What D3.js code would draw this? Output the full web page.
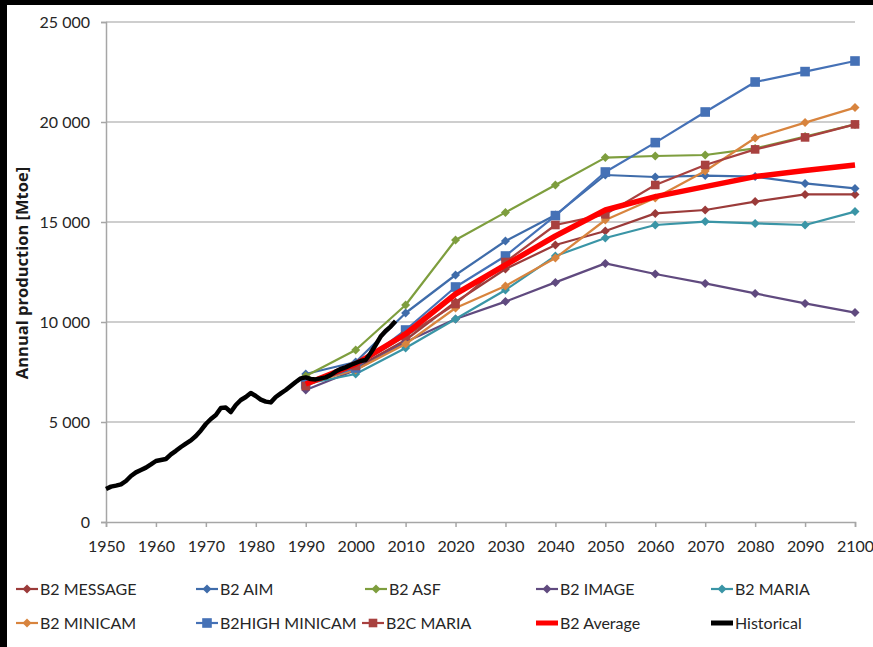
<!DOCTYPE html>
<html><head><meta charset="utf-8">
<script src="https://cdn.jsdelivr.net/npm/d3@7"></script>
<style>html,body{margin:0;padding:0;background:#000;}svg{display:block;}</style>
</head><body>
<script>
const scenarioYears = [1990,2000,2010,2020,2030,2040,2050,2060,2070,2080,2090,2100];
const b2Message     = [7000,7700,9100,11000,12650,13850,14550,15430,15600,16020,16380,16380];
const b2Aim         = [7400,8000,10450,12350,14050,15350,17350,17250,17320,17270,16930,16680];
const b2Asf         = [7300,8600,10850,14100,15480,16850,18220,18300,18350,18680,19270,19880];
const b2Image       = [6600,7600,9000,10150,11020,11980,12930,12400,11930,11430,10930,10470];
const b2Maria       = [6900,7400,8700,10150,11600,13300,14200,14850,15020,14930,14850,15520];
const b2Minicam     = [6900,7600,8900,10700,11800,13200,15100,16200,17550,19200,19970,20720];
const b2HighMinicam = [6900,7700,9600,11750,13300,15320,17500,18970,20500,22000,22520,23050];
const b2cMaria      = [6800,7800,9300,10900,13000,14850,15380,16850,17850,18630,19230,19880];
const b2Average     = [6900,7900,9400,11400,12850,14300,15600,16270,16770,17270,17570,17850];
const historicalYears = d3.range(1950,2009);
const historical = [1650,1770,1820,1880,2050,2300,2480,2600,2720,2880,3050,3100,3150,3380,3560,3750,3920,4080,4300,4580,
  4900,5150,5350,5700,5720,5500,5850,6100,6250,6450,6300,6120,6020,5980,6250,6430,6600,6800,7000,7180,
  7230,7150,7130,7180,7230,7350,7520,7650,7730,7850,7950,8050,8100,8450,8850,9270,9550,9770,10050];
const xTicks = [1950,1960,1970,1980,1990,2000,2010,2020,2030,2040,2050,2060,2070,2080,2090,2100];
const yTicks = [0,5000,10000,15000,20000,25000];
const seriesNames = ["B2 MESSAGE","B2 AIM","B2 ASF","B2 IMAGE","B2 MARIA","B2 MINICAM","B2HIGH MINICAM","B2C MARIA","B2 Average","Historical"];
const seriesColors = ["#9B3B3A","#3F6CAA","#7E9E3E","#604A7F","#3A95A6","#D8843E","#4571B6","#A8413F","#FF0000","#000000"];
const seriesMarkers = ["diamond","diamond","diamond","diamond","diamond","diamond","square","square","none","none"];

const W=873,H=647;
const svg=d3.select("body").append("svg").attr("width",W).attr("height",H);
svg.append("rect").attr("x",0).attr("y",0).attr("width",W).attr("height",H).attr("fill","#000");
svg.append("rect").attr("x",7).attr("y",5).attr("width",W-7).attr("height",H-5).attr("fill","#fff");

const x=d3.scaleLinear().domain([1950,2100]).range([106,855]);
const y=d3.scaleLinear().domain([0,25000]).range([522,22]);
const font="Lato, 'Open Sans', sans-serif";

// gridlines
svg.append("g").selectAll("line").data(yTicks.filter(d=>d>0)).join("line")
  .attr("x1",x(1950)).attr("x2",x(2100)).attr("y1",d=>y(d)).attr("y2",d=>y(d))
  .attr("stroke","#BEBEBE").attr("stroke-width",1.5);

// y axis
const yAxis=d3.axisLeft(y).tickValues(yTicks).tickSize(5).tickPadding(11)
  .tickFormat(d=>d===0?"0":d3.format(",")(d).replace(","," "));
const gy=svg.append("g").attr("transform",`translate(${x(1950)},0)`).call(yAxis);
gy.select(".domain").attr("stroke","#A6A6A6").attr("stroke-width",1.5);
gy.selectAll(".tick line").attr("stroke","#A6A6A6").attr("stroke-width",1.5);
gy.selectAll("text").attr("font-family",font).attr("font-size",16).attr("fill","#262626");

// x axis
const xAxis=d3.axisBottom(x).tickValues(xTicks).tickSize(5).tickPadding(14).tickFormat(d3.format("d"));
const gx=svg.append("g").attr("transform",`translate(0,${y(0)})`).call(xAxis);
gx.select(".domain").attr("stroke","#A6A6A6").attr("stroke-width",1.5);
gx.selectAll(".tick line").attr("stroke","#A6A6A6").attr("stroke-width",1.5);
gx.selectAll("text").attr("font-family",font).attr("font-size",16).attr("fill","#262626");

// y title
svg.append("text").attr("transform","translate(28,273) rotate(-90)").attr("text-anchor","middle")
  .attr("font-family","'Open Sans', sans-serif").attr("font-size",16.5).attr("font-weight","bold").attr("fill","#1a1a1a")
  .text("Annual production [Mtoe]");

const scen=[b2Message,b2Aim,b2Asf,b2Image,b2Maria,b2Minicam,b2HighMinicam,b2cMaria,b2Average];
const line=d3.line().x(d=>x(d[0])).y(d=>y(d[1]));
const plot=svg.append("g");
function marker(g,type,color,cx,cy,big){
  if(type==="diamond"){
    const s=4.5;
    g.append("path").attr("d",`M${cx},${cy-s}L${cx+s},${cy}L${cx},${cy+s}L${cx-s},${cy}Z`).attr("fill",color);
  } else if(type==="square"){
    const s=big?4.8:4.3;
    g.append("rect").attr("x",cx-s).attr("y",cy-s).attr("width",2*s).attr("height",2*s).attr("fill",color);
  }
}
scen.forEach((vals,i)=>{
  const pts=scenarioYears.map((yr,j)=>[yr,vals[j]]);
  const g=plot.append("g");
  g.append("path").attr("d",line(pts)).attr("fill","none").attr("stroke",seriesColors[i])
    .attr("stroke-width",i===8?5.5:2.2).attr("stroke-linejoin","round");
  if(seriesMarkers[i]!=="none") pts.forEach(p=>marker(g,seriesMarkers[i],seriesColors[i],x(p[0]),y(p[1]),i===6));
});
plot.append("path").attr("d",line(historicalYears.map((yr,j)=>[yr,historical[j]])))
  .attr("fill","none").attr("stroke","#000").attr("stroke-width",4.5).attr("stroke-linejoin","round");

// legend
const legendText=[[40,589],[220,589],[389,589],[560,589],[735,589],[40,623],[220,623],[386,623],[560,623],[735,623]];
seriesNames.forEach((name,i)=>{
  const [tx,ly]=legendText[i];
  const g=svg.append("g");
  g.append("line").attr("x1",tx-24).attr("x2",tx-2).attr("y1",ly).attr("y2",ly)
    .attr("stroke",seriesColors[i]).attr("stroke-width",i>=8?5:2.2);
  if(seriesMarkers[i]!=="none") marker(g,seriesMarkers[i],seriesColors[i],tx-13,ly,i===6);
  g.append("text").attr("x",tx).attr("y",ly).attr("dy","0.35em").attr("font-family",font)
    .attr("font-size",16).attr("fill","#262626").text(name);
});
</script>
</body></html>
